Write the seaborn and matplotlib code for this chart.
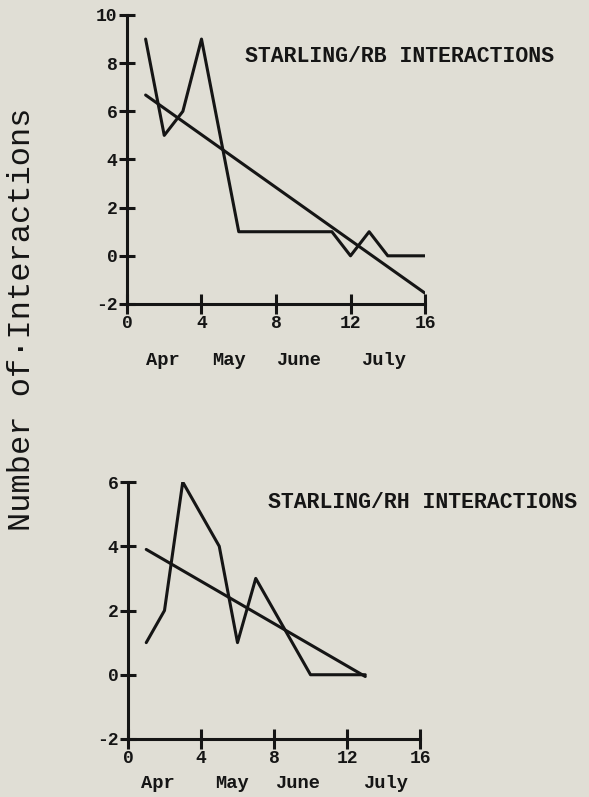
import numpy as np
import pandas as pd
import matplotlib
matplotlib.use('Agg')
import matplotlib.pyplot as plt
import seaborn as sns

# dados
semana_rb = [1, 2, 3, 4, 5, 6, 7, 8, 9, 10, 11, 12, 13, 14, 15, 16]
inter_rb = [9, 5, 6, 9, 5, 1, 1, 1, 1, 1, 1, 0, 1, 0, 0, 0]

semana_rh = [1, 2, 3, 4, 5, 6, 7, 8, 9, 10, 11, 12, 13]
inter_rh = [1, 2, 6, 5, 4, 1, 3, 2, 1, 0, 0, 0, 0]

meses = ['Apr', 'May', 'June', 'July']
meses_top_x = [1.9, 5.5, 9.2, 13.8]
meses_bot_x = [1.65, 5.7, 9.3, 14.1]

titulo_top = 'STARLING/RB INTERACTIONS'
titulo_bot = 'STARLING/RH INTERACTIONS'
ylabel = 'Number of\u00b7Interactions'

Cor_Fundo = '#e0ded5'
Cor_Linha = '#151515'

sns.set_style('ticks')
plt.rcParams['font.family'] = ['Liberation Mono', 'DejaVu Sans Mono']

fig = plt.figure(figsize=(5.89, 7.97), dpi=100)
fig.patch.set_facecolor(Cor_Fundo)

ax1 = fig.add_axes([0.2156, 0.6186, 0.506, 0.3626])
ax2 = fig.add_axes([0.2173, 0.0728, 0.4958, 0.3224])

df_rb = pd.DataFrame({'Semana': semana_rb, 'Interacoes': inter_rb})
df_rh = pd.DataFrame({'Semana': semana_rh, 'Interacoes': inter_rh})


def painel(ax, df, ylim, yticks, meses_x, y_meses):
    ax.set_facecolor(Cor_Fundo)
    sns.lineplot(data=df, x='Semana', y='Interacoes', ax=ax, color=Cor_Linha, lw=2.2)
    sns.regplot(data=df, x='Semana', y='Interacoes', ax=ax, scatter=False, ci=None,
                color=Cor_Linha, line_kws={'lw': 2.2})
    ax.set_xlim(0, 16)
    ax.set_ylim(*ylim)
    ax.set_xticks([0, 4, 8, 12, 16])
    ax.set_yticks(yticks)
    ax.set_xlabel('')
    ax.set_ylabel('')
    sns.despine(ax=ax)
    for s in ['left', 'bottom']:
        ax.spines[s].set_linewidth(2.2)
        ax.spines[s].set_color(Cor_Linha)
    ax.tick_params(axis='x', direction='inout', length=14, width=2.2, pad=1,
                   labelsize=13, colors=Cor_Linha)
    ax.tick_params(axis='y', direction='inout', length=12, width=2.2, pad=1,
                   labelsize=13, colors=Cor_Linha)
    for lab in ax.get_xticklabels() + ax.get_yticklabels():
        lab.set_fontweight('bold')
    ax.yaxis.set_major_formatter(matplotlib.ticker.FuncFormatter(lambda v, p: f'{int(v)}'))
    for m, xm in zip(meses, meses_x):
        ax.text(xm, y_meses, m, transform=ax.get_xaxis_transform(), ha='center', va='center',
                fontsize=13.5, fontweight='bold', color=Cor_Linha, clip_on=False)


painel(ax1, df_rb, (-2, 10), [-2, 0, 2, 4, 6, 8, 10], meses_top_x, -0.195)
painel(ax2, df_rh, (-2, 6), [-2, 0, 2, 4, 6], meses_bot_x, -0.172)

fig.text(245 / 589, 1 - 57 / 797, titulo_top, fontsize=15.5, fontweight='bold',
         color=Cor_Linha, va='center', ha='left')
fig.text(268 / 589, 1 - 503 / 797, titulo_bot, fontsize=15.5, fontweight='bold',
         color=Cor_Linha, va='center', ha='left')
fig.text(0.038, 0.6, ylabel, rotation=90, fontsize=23, color=Cor_Linha,
         va='center', ha='center')

plt.savefig('out.png', dpi=100, facecolor=Cor_Fundo)
plt.close()
